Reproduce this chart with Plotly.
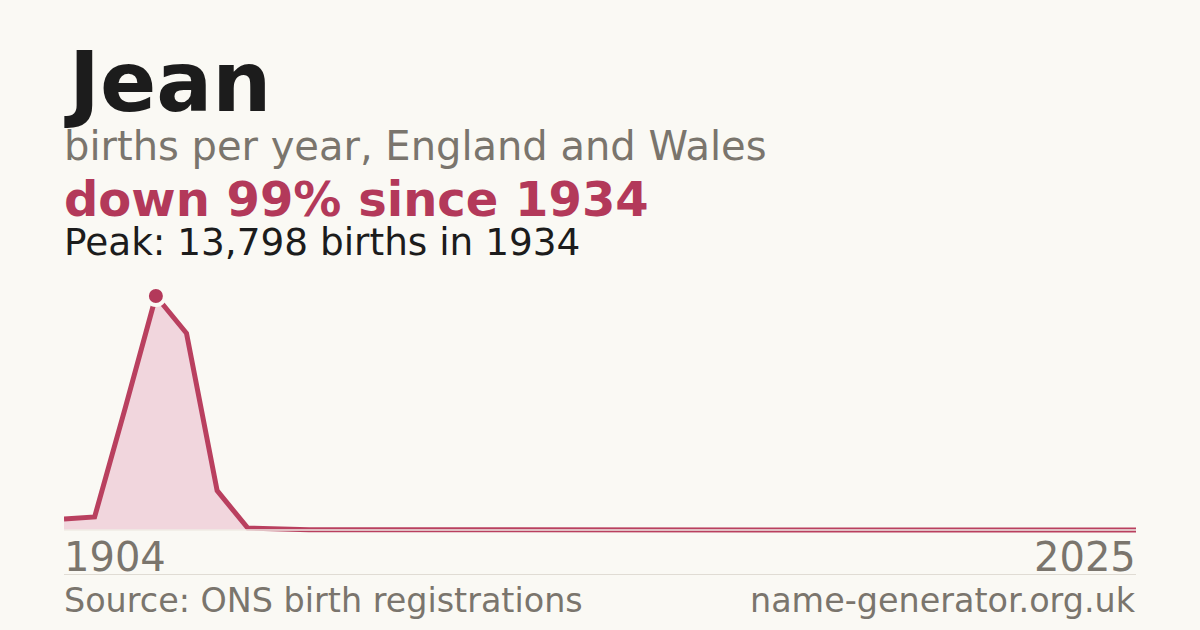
import plotly.graph_objects as go

# Données : naissances par an (décennies puis annuel)
years = [1904, 1914, 1924, 1934, 1944, 1954, 1964, 1974, 1984, 1994,
         2000, 2001, 2002, 2003, 2004, 2005, 2006, 2007, 2008, 2009,
         2010, 2011, 2012, 2013, 2014, 2015, 2016, 2017, 2018, 2019,
         2020, 2021, 2022, 2023, 2024, 2025]
births = [650, 770, 7200, 13798, 11600, 2320, 110, 30, 20, 10,
          8, 8, 7, 7, 6, 6, 6, 5, 5, 5,
          5, 5, 4, 4, 4, 4, 4, 3, 3, 3,
          3, 3, 3, 3, 3, 3]
peak_year = 1934
peak_value = 13798

BG = '#faf9f4'
INK = '#1c1c1c'
GREY = '#7a756d'
RED = '#b3395a'
PINK = '#f1d6dd'

W, H = 1200, 630
idx = list(range(len(years)))
peak_i = years.index(peak_year)


def px(x):
    return x / W


def py(y):
    return 1 - y / H


fig = go.Figure()

fig.add_trace(go.Scatter(
    x=idx, y=births, mode='lines',
    line=dict(color='#b9405f', width=5),
    fill='tozeroy', fillcolor=PINK,
    hoverinfo='skip', showlegend=False))

fig.add_trace(go.Scatter(
    x=[peak_i], y=[peak_value], mode='markers',
    marker=dict(color=RED, size=18, line=dict(color=BG, width=4)),
    cliponaxis=False, hoverinfo='skip', showlegend=False))

fig.update_layout(
    width=W, height=H,
    margin=dict(l=0, r=0, t=0, b=0),
    paper_bgcolor=BG, plot_bgcolor=BG,
    font=dict(family='DejaVu Sans'),
    xaxis=dict(domain=[px(64), px(1136)], range=[0, len(years) - 1],
               visible=False, fixedrange=True),
    yaxis=dict(domain=[py(540), py(280)], range=[-590, 14741],
               visible=False, fixedrange=True),
)

# ligne de base et séparateur
fig.add_shape(type='line', xref='x', yref='y', x0=0, x1=len(years) - 1,
              y0=0, y1=0, line=dict(color='#efebe4', width=1.5), layer='above')
fig.add_shape(type='line', xref='paper', yref='paper', x0=px(64), x1=px(1136),
              y0=py(574.5), y1=py(574.5), line=dict(color='#e0dcd4', width=1))

texts = [
    ('Jean', 83, INK, True, 83),
    ('births per year, England and Wales', 40, GREY, False, 146),
    (f'down 99% since {peak_year}', 48, RED, True, 199),
    (f'Peak: {peak_value:,} births in {peak_year}', 37.4, INK, False, 242),
]
for t, size, col, bold, yc in texts:
    fig.add_annotation(
        text=f'<b>{t}</b>' if bold else t,
        xref='paper', yref='paper', x=px(62), y=py(yc),
        xanchor='left', yanchor='middle', showarrow=False,
        font=dict(size=size, color=col, family='DejaVu Sans'))

fig.add_annotation(text=str(years[0]), xref='x', yref='paper', x=0, y=py(557),
                   xanchor='left', yanchor='middle', showarrow=False,
                   xshift=-2, font=dict(size=40, color=GREY))
fig.add_annotation(text=str(years[-1]), xref='x', yref='paper', x=len(years) - 1,
                   y=py(557), xanchor='right', yanchor='middle', showarrow=False,
                   xshift=2, font=dict(size=40, color=GREY))

fig.add_annotation(text='Source: ONS birth registrations', xref='paper', yref='paper',
                   x=px(62), y=py(600), xanchor='left', yanchor='middle',
                   showarrow=False, font=dict(size=33.4, color=GREY))
fig.add_annotation(text='name-generator.org.uk', xref='paper', yref='paper',
                   x=px(1138), y=py(600), xanchor='right', yanchor='middle',
                   showarrow=False, font=dict(size=33.4, color=GREY))

fig.write_html("out.html",
               config={'displayModeBar': False},
               post_script="document.body.style.margin='0';"
                           "document.body.style.background='#faf9f4';")
